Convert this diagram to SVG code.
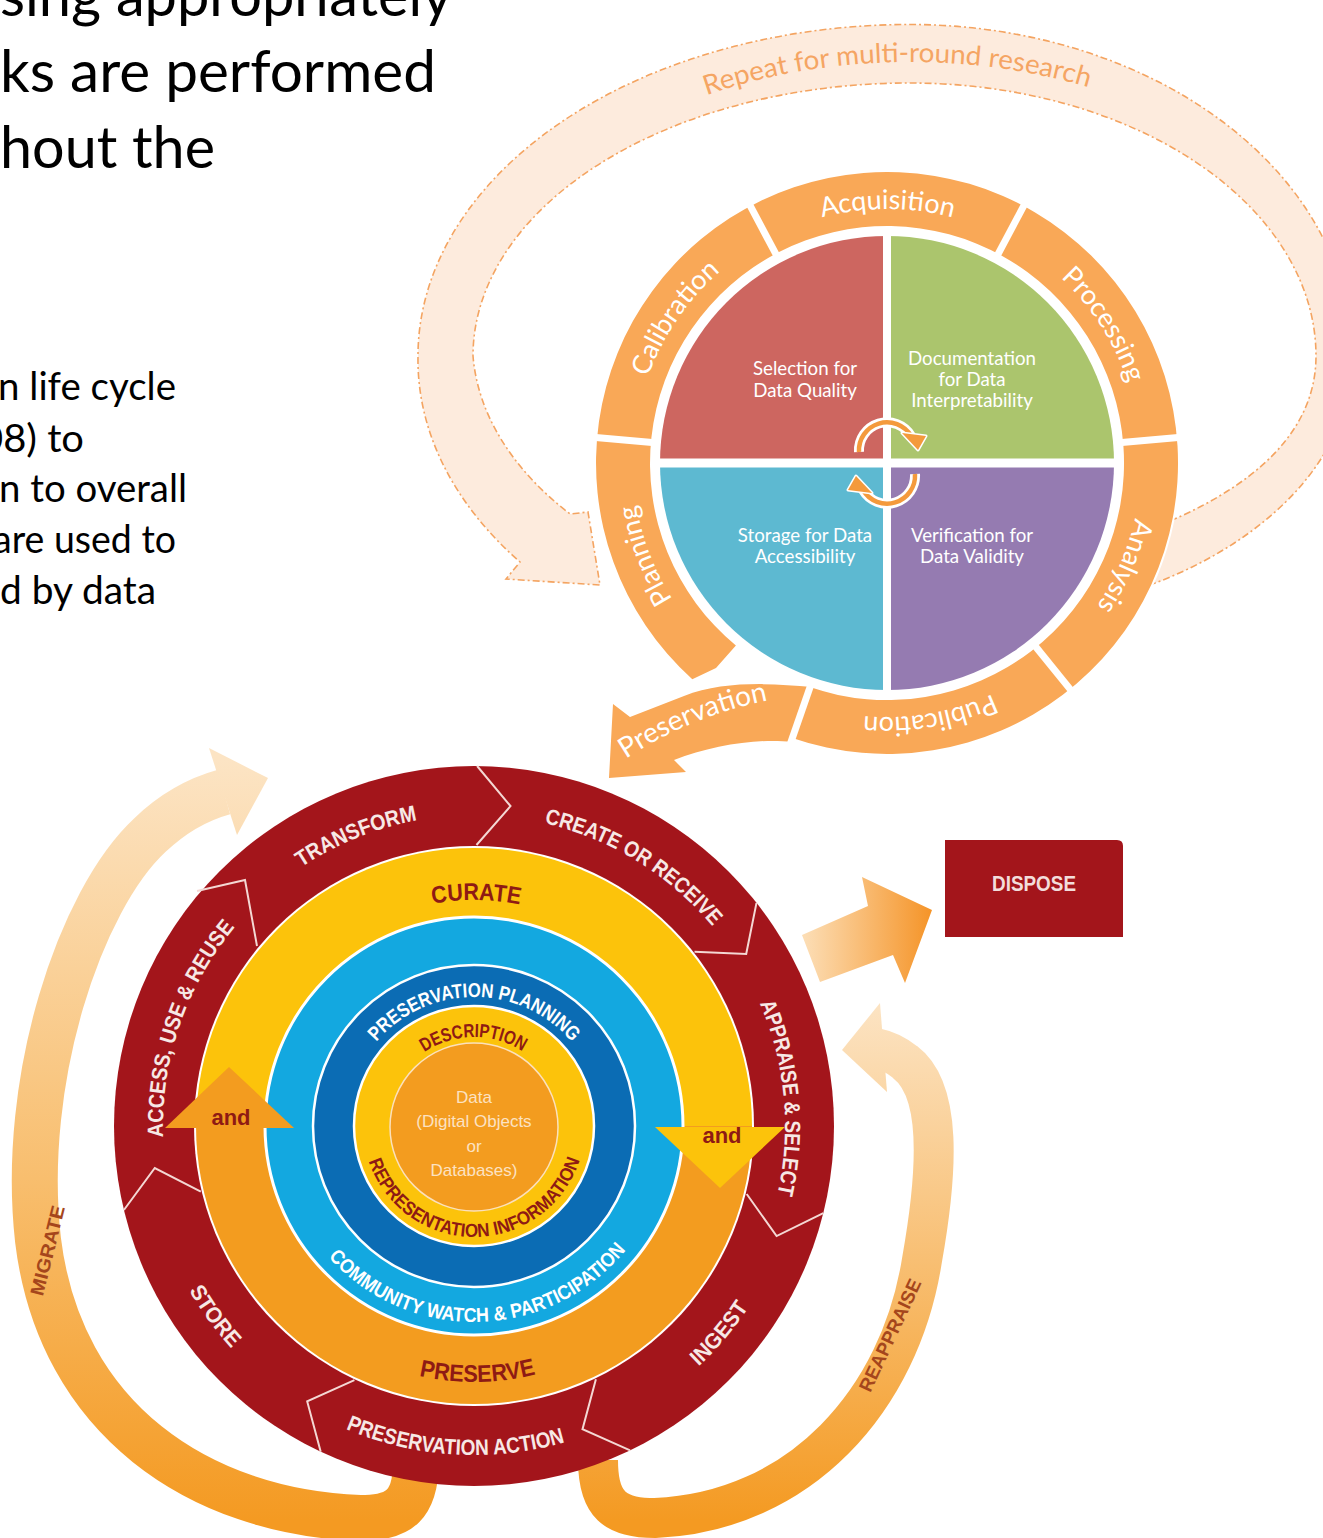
<svg xmlns="http://www.w3.org/2000/svg" width="1323" height="1538" viewBox="0 0 1323 1538">
<style>
  .body { font-family: Lato, "Open Sans", sans-serif; fill: #000; }
  .seg { fill: #F9A857; }
  .sep { stroke: #fff; stroke-width: 7; }
  .segtxt { font-family: Lato, "Open Sans", sans-serif; font-size: 27px; fill: #fff; }
  .quadtxt { font-family: Lato, "Open Sans", sans-serif; font-size: 18.7px; fill: #fff; text-anchor: middle; }
  .dcc { font-family: "Liberation Sans", Arial, sans-serif; font-weight: bold; }
  .ring { font-size: 22px; fill: #F7E8E5; }
  .dark { fill: #8E1A14; }
  .chev { fill: none; stroke: #F4D8D4; stroke-width: 2; }
</style>
<defs>
  <linearGradient id="gMigrate" gradientUnits="userSpaceOnUse" x1="0" y1="760" x2="0" y2="1520">
    <stop offset="0" stop-color="#FCE4C4"/>
    <stop offset="0.55" stop-color="#F8BE6E"/>
    <stop offset="1" stop-color="#F49A22"/>
  </linearGradient>
  <linearGradient id="gReappraise" gradientUnits="userSpaceOnUse" x1="0" y1="1000" x2="0" y2="1520">
    <stop offset="0" stop-color="#FCE4C4"/>
    <stop offset="1" stop-color="#F49A22"/>
  </linearGradient>
  <linearGradient id="gDispose" gradientUnits="userSpaceOnUse" x1="805" y1="0" x2="930" y2="0">
    <stop offset="0" stop-color="#FCDDB4"/>
    <stop offset="1" stop-color="#F5952A"/>
  </linearGradient>
  <!-- text baselines -->
  <path id="tp-top" d="M 1141,463 A 254 254 0 1 1 633,463 A 254 254 0 1 1 1141,463"/>
  <path id="tp-repeat" d="M 470,356 A 440 294 0 0 1 1350,356"/>
  <path id="tp-pres" d="M 624,760 Q 690,716 770,700"/>
  <path id="tp-outer-cw" d="M 474,1437 A 311 311 0 1 1 474,815 A 311 311 0 1 1 474,1437"/>
  <path id="tp-outer-ccw" d="M 474,797 A 329 329 0 1 0 474,1455 A 329 329 0 1 0 474,797"/>
  <path id="tp-curate" d="M 474,1352 A 226 226 0 1 1 474,900 A 226 226 0 1 1 474,1352"/>
  <path id="tp-preserve" d="M 474,870 A 256 256 0 1 0 474,1382 A 256 256 0 1 0 474,870"/>
  <path id="tp-planning" d="M 474,1255 A 129 129 0 1 1 474,997 A 129 129 0 1 1 474,1255"/>
  <path id="tp-community" d="M 474,930 A 196 196 0 1 0 474,1322 A 196 196 0 1 0 474,930"/>
  <path id="tp-description" d="M 474,1215 A 89 89 0 1 1 474,1037 A 89 89 0 1 1 474,1215"/>
  <path id="tp-repinfo" d="M 474,1015 A 111 111 0 1 0 474,1237 A 111 111 0 1 0 474,1015"/>
</defs>

<rect width="1323" height="1538" fill="#fff"/>

<!-- slide body text -->
<g id="slide-text" class="body">
  <text x="0" y="16" font-size="58" textLength="452" lengthAdjust="spacingAndGlyphs">sing appropriately</text>
  <text x="0" y="92" font-size="58" textLength="436" lengthAdjust="spacingAndGlyphs">ks are performed</text>
  <text x="0" y="168" font-size="58" textLength="215" lengthAdjust="spacingAndGlyphs">hout the</text>
  <text x="-2" y="400" font-size="38" textLength="178" lengthAdjust="spacingAndGlyphs">n life cycle</text>
  <text x="-20" y="452" font-size="38" textLength="104" lengthAdjust="spacingAndGlyphs">08) to</text>
  <text x="-1" y="502" font-size="38" textLength="188" lengthAdjust="spacingAndGlyphs">n to overall</text>
  <text x="-7" y="553" font-size="38" textLength="183" lengthAdjust="spacingAndGlyphs">are used to</text>
  <text x="0" y="604" font-size="38" textLength="156" lengthAdjust="spacingAndGlyphs">d by data</text>
</g>

<!-- research cycle -->
<g id="repeat-band">
  <path d="M 1135,590 C 1230,560 1352,480 1352,356 A 442 331.5 0 0 0 910,24.5 A 492 331.5 0 0 0 418,356 A 492 331.5 0 0 0 520,562 L 506,579 L 600,585 L 588,512 L 570,514 A 437 273 0 0 1 473,356 A 437 273 0 0 1 910,83 A 406 273 0 0 1 1316,356 C 1316,440 1240,500 1120,540 Z" fill="#FDEBDD" stroke="#F4A461" stroke-width="1.6" stroke-dasharray="7 3 2 3"/>
  <text font-family="Lato, 'Open Sans', sans-serif" font-size="27" fill="#F5A563" text-anchor="middle"><textPath href="#tp-repeat" startOffset="569" textLength="388" lengthAdjust="spacingAndGlyphs">Repeat for multi-round research</textPath></text>
</g>

<circle cx="887" cy="463" r="293" fill="#fff"/>

<g id="quadrants">
  <path d="M 887,463 L 887,236 A 227 227 0 0 0 660,463 Z" fill="#CD6660"/>
  <path d="M 887,463 L 887,236 A 227 227 0 0 1 1114,463 Z" fill="#ABC56D"/>
  <path d="M 887,463 L 660,463 A 227 227 0 0 0 887,690 Z" fill="#5DB9D1"/>
  <path d="M 887,463 L 1114,463 A 227 227 0 0 1 887,690 Z" fill="#957BB1"/>
  <line x1="887" y1="230" x2="887" y2="696" stroke="#fff" stroke-width="8"/>
  <line x1="654" y1="463" x2="1120" y2="463" stroke="#fff" stroke-width="9"/>
  <g id="q-selection" class="quadtxt"><text x="805" y="375">Selection for</text><text x="805" y="397">Data Quality</text></g>
  <g id="q-documentation" class="quadtxt"><text x="972" y="365">Documentation</text><text x="972" y="386">for Data</text><text x="972" y="407">Interpretability</text></g>
  <g id="q-storage" class="quadtxt"><text x="805" y="542">Storage for Data</text><text x="805" y="563">Accessibility</text></g>
  <g id="q-verification" class="quadtxt"><text x="972" y="542">Verification for</text><text x="972" y="563">Data Validity</text></g>
</g>

<g id="stages">
  <path class="seg" d="M 692.3,679.2 A 291 291 0 1 1 792.3,738.1 L 809.8,687.1 A 237 237 0 1 0 735.9,645.6 L 716,668 Z"/>
  <path id="preservation" class="seg" d="M 812,687 C 770,683 722,681 684,696 L 630,717 L 613,704 L 609,778 L 686,772 L 674,760 C 712,745 760,738 792,742 Z"/>
  <line class="sep" x1="657.9" y1="442.9" x2="590.1" y2="437"/>
  <line class="sep" x1="779" y1="259.9" x2="747.1" y2="199.9"/>
  <line class="sep" x1="995" y1="259.9" x2="1026.9" y2="199.9"/>
  <line class="sep" x1="1116.1" y1="442.9" x2="1183.9" y2="437"/>
  <line class="sep" x1="1031.7" y1="641.7" x2="1074.5" y2="694.6"/>
  <line class="sep" x1="812.3" y1="680.6" x2="789.7" y2="745.7"/>
  <g class="segtxt" text-anchor="middle">
    <text><textPath href="#tp-top" startOffset="1196.9">Acquisition</textPath></text>
    <text><textPath href="#tp-top" startOffset="1450.9">Processing</textPath></text>
    <text><textPath href="#tp-top" startOffset="103.7">Analysis</textPath></text>
    <text><textPath href="#tp-top" startOffset="356">Publication</textPath></text>
    <text><textPath href="#tp-top" startOffset="704.8">Planning</textPath></text>
    <text><textPath href="#tp-top" startOffset="950">Calibration</textPath></text>
    <text font-size="28"><textPath href="#tp-pres" startOffset="50%">Preservation</textPath></text>
  </g>
</g>

<g id="cycle-arrows" stroke-linejoin="round">
  <path d="M 859,452 A 28 28 0 0 1 911,436" fill="none" stroke="#fff" stroke-width="10"/>
  <path d="M 859,452 A 28 28 0 0 1 911,436" fill="none" stroke="#F49A3C" stroke-width="4.5"/>
  <polygon points="902,433 926,436 918,450" fill="#F49A3C" stroke="#fff" stroke-width="3" paint-order="stroke"/>
  <path d="M 915,474 A 28 28 0 0 1 863,490" fill="none" stroke="#fff" stroke-width="10"/>
  <path d="M 915,474 A 28 28 0 0 1 863,490" fill="none" stroke="#F49A3C" stroke-width="4.5"/>
  <polygon points="872,493 848,490 856,476" fill="#F49A3C" stroke="#fff" stroke-width="3" paint-order="stroke"/>
</g>

<!-- curation lifecycle -->
<g id="migrate">
  <path d="M 416,1460 C 416,1505 400,1518 360,1518 C 200,1512 60,1420 38,1240 C 20,1080 80,900 150,835 C 172,814 195,800 224,792" fill="none" stroke="url(#gMigrate)" stroke-width="46"/>
  <polygon points="209,748 268,778 237,835" fill="url(#gMigrate)"/>
  <text class="dcc" font-size="19" fill="#A5461C" text-anchor="middle" transform="translate(54,1252) rotate(-76)" textLength="92" lengthAdjust="spacingAndGlyphs">MIGRATE</text>
</g>
<g id="reappraise">
  <path d="M 598,1460 C 598,1505 615,1518 655,1518 C 800,1512 900,1400 922,1260 C 938,1170 942,1090 905,1062 C 895,1054 886,1050 876,1048" fill="none" stroke="url(#gReappraise)" stroke-width="40"/>
  <polygon points="880,1003 842,1050 887,1092" fill="url(#gReappraise)"/>
  <text class="dcc" font-size="19" fill="#A5461C" text-anchor="middle" transform="translate(896,1338) rotate(-65)" textLength="122" lengthAdjust="spacingAndGlyphs">REAPPRAISE</text>
</g>

<g id="outer-ring">
  <circle cx="474" cy="1126" r="360" fill="#A3151B"/>
  <circle cx="474" cy="1126" r="280" fill="#fff"/>
  <polyline class="chev" points="477.1,766 510.5,806.1 476.5,845"/>
  <polyline class="chev" points="756.5,902.9 746.2,953.9 694.5,951.8"/>
  <polyline class="chev" points="823.3,1213.1 776.6,1236.1 746.7,1194"/>
  <polyline class="chev" points="630.1,1450.4 582.5,1429.2 595.9,1379.2"/>
  <polyline class="chev" points="320.7,1451.7 307.2,1401.4 354.4,1380.2"/>
  <polyline class="chev" points="123.9,1210 154.8,1168 200.8,1191.6"/>
  <polyline class="chev" points="197,891 245,880 257,946"/>
  <g class="dcc ring" text-anchor="middle">
    <text><textPath href="#tp-outer-cw" startOffset="856.5" textLength="126" lengthAdjust="spacingAndGlyphs">TRANSFORM</textPath></text>
    <text><textPath href="#tp-outer-cw" startOffset="1148" textLength="201" lengthAdjust="spacingAndGlyphs">CREATE OR RECEIVE</textPath></text>
    <text><textPath href="#tp-outer-cw" startOffset="1436.3" textLength="195" lengthAdjust="spacingAndGlyphs">APPRAISE &amp; SELECT</textPath></text>
    <text><textPath href="#tp-outer-cw" startOffset="590.6" textLength="227" lengthAdjust="spacingAndGlyphs">ACCESS, USE &amp; REUSE</textPath></text>
    <text><textPath href="#tp-outer-ccw" startOffset="1319" textLength="78" lengthAdjust="spacingAndGlyphs">INGEST</textPath></text>
    <text><textPath href="#tp-outer-ccw" startOffset="1013.5" textLength="224" lengthAdjust="spacingAndGlyphs">PRESERVATION ACTION</textPath></text>
    <text><textPath href="#tp-outer-ccw" startOffset="724.7" textLength="72" lengthAdjust="spacingAndGlyphs">STORE</textPath></text>
  </g>
</g>

<g id="curate-preserve">
  <path d="M 196,1126 A 278 278 0 0 1 752,1126 Z" fill="#FCC30B"/>
  <path d="M 752,1126 A 278 278 0 0 1 196,1126 Z" fill="#F39C1F"/>
  <circle cx="474" cy="1126" r="209" fill="#13A8E0" stroke="#fff" stroke-width="3"/>
  <polygon points="655,1127 785,1127 720,1188" fill="#FCC30B"/>
  <polygon points="165,1128 294,1128 229,1067" fill="#F39C1F"/>
  <g class="dcc dark" text-anchor="middle">
    <text font-size="24"><textPath href="#tp-curate" startOffset="712" textLength="88" lengthAdjust="spacingAndGlyphs">CURATE</textPath></text>
    <text font-size="24"><textPath href="#tp-preserve" startOffset="807.4" textLength="118" lengthAdjust="spacingAndGlyphs">PRESERVE</textPath></text>
    <text x="231" y="1125" font-size="22">and</text>
    <text x="722" y="1143" font-size="22">and</text>
  </g>
</g>

<g id="planning-ring">
  <circle cx="474" cy="1126" r="161" fill="#0B6CB4" stroke="#fff" stroke-width="2.5"/>
  <g class="dcc" fill="#fff" text-anchor="middle" font-size="20">
    <text><textPath href="#tp-planning" startOffset="405.3" textLength="222" lengthAdjust="spacingAndGlyphs">PRESERVATION PLANNING</textPath></text>
    <text><textPath href="#tp-community" startOffset="620.2" textLength="338" lengthAdjust="spacingAndGlyphs">COMMUNITY WATCH &amp; PARTICIPATION</textPath></text>
  </g>
</g>

<g id="description-ring">
  <circle cx="474" cy="1126" r="120" fill="#FCC30B" stroke="#fff" stroke-width="2.5"/>
  <g class="dcc dark" text-anchor="middle" font-size="19">
    <text><textPath href="#tp-description" startOffset="278.4" textLength="104" lengthAdjust="spacingAndGlyphs">DESCRIPTION</textPath></text>
    <text><textPath href="#tp-repinfo" startOffset="349" textLength="278" lengthAdjust="spacingAndGlyphs">REPRESENTATION INFORMATION</textPath></text>
  </g>
</g>

<g id="data-core">
  <circle cx="474" cy="1127" r="84" fill="#F39C1F" stroke="#FBE0BC" stroke-width="1.5"/>
  <g font-family="'Liberation Sans', Arial, sans-serif" font-size="17" fill="#FCE2C2" text-anchor="middle">
    <text x="474" y="1103">Data</text>
    <text x="474" y="1127">(Digital Objects</text>
    <text x="474" y="1152">or</text>
    <text x="474" y="1176">Databases)</text>
  </g>
</g>

<g id="dispose">
  <polygon points="802,935 868,906 862,877 932,910 905,983 893,955 820,982" fill="url(#gDispose)"/>
  <path d="M 945,840 H 1117 Q 1123,840 1123,846 V 937 H 945 Z" fill="#A3151B"/>
  <text class="dcc" x="1034" y="891" font-size="22" fill="#F3DDDB" text-anchor="middle" textLength="84" lengthAdjust="spacingAndGlyphs">DISPOSE</text>
</g>
</svg>
